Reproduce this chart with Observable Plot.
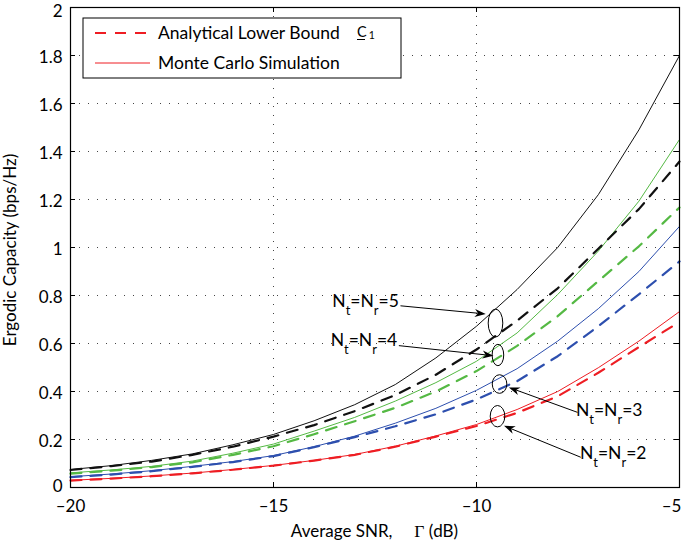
<!DOCTYPE html>
<html>
<head>
<meta charset="utf-8">
<script src="https://cdn.jsdelivr.net/npm/d3@7"></script>
<script src="https://cdn.jsdelivr.net/npm/@observablehq/plot@0.6"></script>
<style>
  html, body { margin: 0; padding: 0; background: #fff; }
  svg { display: block; }
</style>
</head>
<body>
<div id="chart"></div>
<script>
// ---- data ----
const snr = [-20, -19, -18, -17, -16, -15, -14, -13, -12, -11, -10, -9, -8, -7, -6, -5];

// Monte Carlo simulation (solid)
const sim2 = [0.030, 0.038, 0.048, 0.060, 0.075, 0.092, 0.113, 0.1375, 0.172, 0.215, 0.2625, 0.325, 0.400, 0.499, 0.610, 0.733];
const sim3 = [0.045, 0.056, 0.070, 0.088, 0.108, 0.133, 0.170, 0.214, 0.268, 0.330, 0.405, 0.495, 0.610, 0.745, 0.900, 1.088];
const sim4 = [0.061, 0.073, 0.088, 0.110, 0.143, 0.181, 0.235, 0.292, 0.360, 0.437, 0.526, 0.644, 0.804, 0.985, 1.193, 1.450];
const sim5 = [0.075, 0.091, 0.113, 0.140, 0.178, 0.221, 0.278, 0.345, 0.429, 0.540, 0.672, 0.825, 1.000, 1.220, 1.490, 1.800];

// Analytical lower bound (dashed)
const ana2 = [0.029, 0.037, 0.047, 0.059, 0.074, 0.091, 0.112, 0.136, 0.170, 0.212, 0.256, 0.311, 0.380, 0.478, 0.585, 0.690];
const ana3 = [0.043, 0.054, 0.068, 0.086, 0.106, 0.131, 0.168, 0.210, 0.255, 0.305, 0.367, 0.443, 0.547, 0.672, 0.805, 0.942];
const ana4 = [0.058, 0.070, 0.085, 0.105, 0.136, 0.172, 0.222, 0.276, 0.332, 0.400, 0.485, 0.590, 0.714, 0.860, 1.005, 1.167];
const ana5 = [0.073, 0.089, 0.108, 0.136, 0.170, 0.212, 0.260, 0.318, 0.385, 0.470, 0.575, 0.695, 0.830, 0.995, 1.160, 1.358];

const antennas = [2, 3, 4, 5];
const xTicks = [-20, -15, -10, -5];
const yTicks = [0, 0.2, 0.4, 0.6, 0.8, 1, 1.2, 1.4, 1.6, 1.8, 2];

const legendLabels = ["Analytical Lower Bound", "Monte Carlo Simulation"];
const xLabel = ["Average SNR,", "\u0393", " (dB)"];
const yLabel = "Ergodic Capacity (bps/Hz)";

// ---- styles ----
const colors = {2: "#ee1d23", 3: "#2d4fae", 4: "#55b944", 5: "#111111"};
const simSeries = {2: sim2, 3: sim3, 4: sim4, 5: sim5};
const anaSeries = {2: ana2, 3: ana3, 4: ana4, 5: ana5};

function rows(values) {
  return snr.map((s, i) => ({snr: s, cap: values[i]}));
}

// annotation layout (ellipse centre in data units, radii in px, arrow & label)
const notes = [
  {n: 5, cx: -9.52, cy: 0.683, rx: 7.3, ry: 14, ax1: -11.86, ay1: 0.755, ax2: -9.76, ay2: 0.721, tx: -13.54, ty: 0.750},
  {n: 4, cx: -9.46, cy: 0.550, rx: 5.8, ry: 10.7, ax1: -11.90, ay1: 0.589, ax2: -9.57, ay2: 0.547, tx: -13.58, ty: 0.5875},
  {n: 3, cx: -9.42, cy: 0.429, rx: 7.3, ry: 9.3, ax1: -7.50, ay1: 0.311, ax2: -9.19, ay2: 0.415, tx: -7.54, ty: 0.297},
  {n: 2, cx: -9.47, cy: 0.295, rx: 7.3, ry: 10.7, ax1: -7.42, ay1: 0.124, ax2: -9.31, ay2: 0.255, tx: -7.44, ty: 0.117}
];

const W = 682, H = 545;
const mL = 70, mR = 3, mT = 7, mB = 58;
const innerW = W - mL - mR, innerH = H - mT - mB;
const FONT = "Lato, 'Open Sans', sans-serif";
const dash = "11,9";

function overlay(index, scales, values, dims) {
  const {x, y} = scales;
  const g = d3.create("svg:g").attr("font-family", FONT).attr("fill", "#000").attr("text-anchor", "start");

  // ellipses, arrows and labels
  for (const a of notes) {
    g.append("ellipse")
      .attr("cx", x(a.cx)).attr("cy", y(a.cy))
      .attr("rx", a.rx).attr("ry", a.ry)
      .attr("fill", "none").attr("stroke", "#000").attr("stroke-width", 1);
    const x1 = x(a.ax1), y1 = y(a.ay1), x2 = x(a.ax2), y2 = y(a.ay2);
    const dx = x2 - x1, dy = y2 - y1, len = Math.hypot(dx, dy);
    const ux = dx / len, uy = dy / len, px = -uy, py = ux;
    const L = 11, hw = 4;
    const bx = x2 - L * ux, by = y2 - L * uy;
    const nx = x2 - 0.7 * L * ux, ny = y2 - 0.7 * L * uy;
    g.append("line")
      .attr("x1", x1).attr("y1", y1).attr("x2", nx).attr("y2", ny)
      .attr("stroke", "#000").attr("stroke-width", 1);
    g.append("path")
      .attr("d", `M${x2},${y2}L${bx + hw * px},${by + hw * py}L${nx},${ny}L${bx - hw * px},${by - hw * py}Z`)
      .attr("fill", "#000");
    const t = g.append("text").attr("x", x(a.tx)).attr("y", y(a.ty)).attr("font-size", 17.5);
    t.append("tspan").text("N");
    t.append("tspan").attr("font-size", 13).attr("dy", 8).text("t");
    t.append("tspan").attr("dy", -8).text("=N");
    t.append("tspan").attr("font-size", 13).attr("dy", 8).text("r");
    t.append("tspan").attr("dy", -8).text("=" + a.n);
  }

  // legend
  const lx = dims.marginLeft + 13, ly = dims.marginTop + 11;
  g.append("rect").attr("x", lx).attr("y", ly).attr("width", 318).attr("height", 60)
    .attr("fill", "#fff").attr("stroke", "#000").attr("stroke-width", 1);
  g.append("line").attr("x1", lx + 12).attr("x2", lx + 67).attr("y1", ly + 15).attr("y2", ly + 15)
    .attr("stroke", colors[2]).attr("stroke-width", 2.2).attr("stroke-dasharray", "11,9");
  g.append("line").attr("x1", lx + 12).attr("x2", lx + 67).attr("y1", ly + 45).attr("y2", ly + 45)
    .attr("stroke", colors[2]).attr("stroke-width", 1);
  g.append("text").attr("x", lx + 75).attr("y", ly + 21).attr("font-size", 17.5).text(legendLabels[0]);
  g.append("text").attr("x", lx + 75).attr("y", ly + 51).attr("font-size", 17.5).text(legendLabels[1]);
  const c = g.append("text").attr("x", lx + 274).attr("y", ly + 19).attr("font-size", 14.5);
  c.append("tspan").text("C");
  c.append("tspan").attr("font-size", 10.5).attr("dy", 2).attr("dx", 2).text("1");
  g.append("line").attr("x1", lx + 274).attr("x2", lx + 282).attr("y1", ly + 21.5).attr("y2", ly + 21.5)
    .attr("stroke", "#000").attr("stroke-width", 1);

  // axis titles
  const xc = dims.marginLeft + (dims.width - dims.marginLeft - dims.marginRight) / 2;
  const xt = g.append("text").attr("x", xc).attr("y", dims.height - dims.marginBottom + 50)
    .attr("text-anchor", "middle").attr("font-size", 17);
  xt.append("tspan").text(xLabel[0] + "\u00a0\u00a0\u00a0\u00a0\u00a0");
  xt.append("tspan").attr("font-family", "'Liberation Serif', 'DejaVu Serif', serif").attr("font-size", 17.5).text(xLabel[1]);
  xt.append("tspan").text(xLabel[2]);

  const yc = dims.marginTop + (dims.height - dims.marginTop - dims.marginBottom) / 2 + 3;
  g.append("text").attr("transform", `translate(16,${yc}) rotate(-90)`)
    .attr("text-anchor", "middle").attr("font-size", 17).text(yLabel);

  return g.node();
}

const grid = {stroke: "#444", strokeOpacity: 1, strokeWidth: 1, strokeDasharray: "1,8"};
const marks = [Plot.gridX(xTicks, grid), Plot.gridY(yTicks, grid)];
for (const n of antennas) {
  marks.push(Plot.line(rows(anaSeries[n]), {x: "snr", y: "cap", stroke: colors[n], strokeWidth: 2.2, strokeDasharray: dash}));
  marks.push(Plot.line(rows(simSeries[n]), {x: "snr", y: "cap", stroke: colors[n], strokeWidth: 1}));
}
const xFmt = d => (d < 0 ? "\u2013" + (-d) : String(d));
const yFmt = d => String(+d.toFixed(1));
const yAxis = {tickSize: 0, tickPadding: 8, label: null, fontSize: 17, tickFormat: yFmt};
marks.push(
  Plot.frame({stroke: "#000", strokeWidth: 1.2}),
  Plot.tickX(xTicks, {x: d => d, stroke: "#000", insetTop: innerH - 5}),
  Plot.tickX(xTicks, {x: d => d, stroke: "#000", insetBottom: innerH - 5}),
  Plot.tickY(yTicks, {y: d => d, stroke: "#000", insetRight: innerW - 5}),
  Plot.tickY(yTicks, {y: d => d, stroke: "#000", insetLeft: innerW - 5}),
  Plot.axisX(xTicks.slice(0, -1), {tickSize: 0, tickPadding: 12, label: null, fontSize: 17, tickFormat: xFmt}),
  Plot.axisX(xTicks.slice(-1), {tickSize: 0, tickPadding: 12, label: null, fontSize: 17, tickFormat: xFmt, dx: -8}),
  Plot.axisY(yTicks.slice(0, 1), {...yAxis, dy: -1}),
  Plot.axisY(yTicks.slice(1, -1), {...yAxis, dy: 2}),
  Plot.axisY(yTicks.slice(-1), {...yAxis, dy: 4}),
  overlay
);

const chart = Plot.plot({
  width: W, height: H,
  marginLeft: mL, marginRight: mR, marginTop: mT, marginBottom: mB,
  x: {domain: [-20, -5]},
  y: {domain: [0, 2]},
  style: {fontFamily: FONT, fontSize: "17px", color: "#000", background: "#fff", overflow: "visible"},
  marks
});
document.getElementById("chart").appendChild(chart);
</script>
</body>
</html>
